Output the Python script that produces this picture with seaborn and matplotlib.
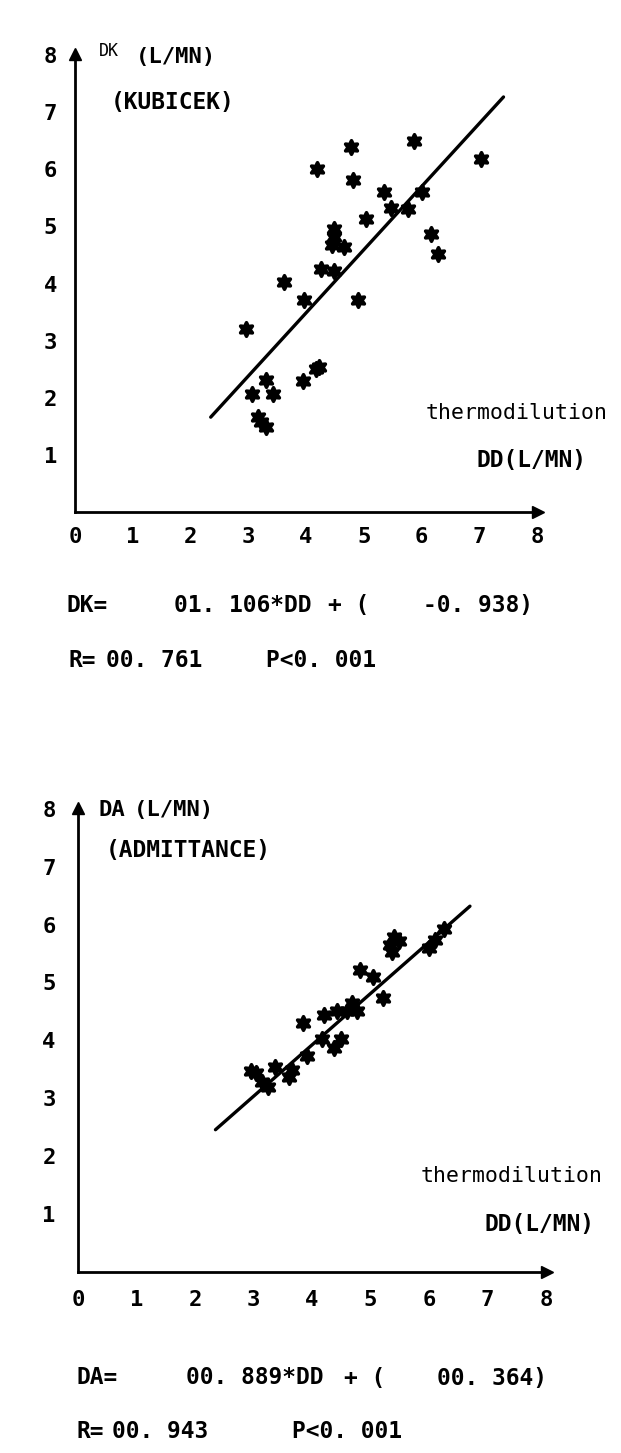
import numpy as np
import pandas as pd
import seaborn as sns
import matplotlib
matplotlib.use("Agg")
import matplotlib.pyplot as plt

# ---------------- data ----------------
dd_kubicek = [4.78, 5.87, 7.03, 4.19, 4.81, 5.35, 6.01, 5.47, 5.77, 5.04,
              4.49, 4.49, 4.45, 4.66, 6.16, 6.29, 4.26, 4.48, 3.62, 3.96,
              4.90, 2.96, 4.23, 4.17, 3.94, 3.30, 3.06, 3.42, 3.17, 3.30, 3.22]
dk_kubicek = [6.40, 6.49, 6.19, 6.01, 5.82, 5.61, 5.60, 5.33, 5.30, 5.13,
              4.96, 4.81, 4.67, 4.64, 4.86, 4.52, 4.25, 4.22, 4.02, 3.71,
              3.72, 3.20, 2.54, 2.50, 2.30, 2.32, 2.07, 2.07, 1.66, 1.49, 1.57]

dd_admit = [5.40, 5.33, 5.37, 5.49, 6.26, 6.11, 6.00, 4.82, 5.05, 5.22,
            4.69, 4.77, 4.59, 4.43, 4.20, 3.85, 4.17, 4.49, 4.37, 3.92,
            3.66, 3.60, 3.37, 2.95, 3.05, 3.24, 3.15]
da_admit = [5.79, 5.65, 5.53, 5.71, 5.92, 5.74, 5.59, 5.22, 5.10, 4.73,
            4.64, 4.50, 4.50, 4.50, 4.44, 4.30, 4.03, 4.03, 3.86, 3.73,
            3.49, 3.37, 3.54, 3.47, 3.43, 3.20, 3.27]

slope_k, icpt_k = 1.106, -0.938
slope_a, icpt_a = 0.889, 0.364
line_range_k = [2.35, 7.42]
line_range_a = [2.35, 6.70]

tick_values = [0, 1, 2, 3, 4, 5, 6, 7, 8]
tick_labels = ["0", "1", "2", "3", "4", "5", "6", "7", "8"]

# ---------------- style ----------------
sns.set_theme(style="white")
plt.rcParams["font.family"] = ["DejaVu Sans Mono", "DejaVu Sans"]

W, H = 621, 1453
fig = plt.figure(figsize=(W / 100, H / 100), dpi=100)
fig.patch.set_facecolor("white")

def fx(px):
    return px / W

def fy(py):
    return 1 - py / H

star = (6, 1, 0)

def make_panel(rect, xs, ys, slope, icpt, lrange, xpad, ypad):
    ax = fig.add_axes(rect)
    ax.set_facecolor("white")
    df = pd.DataFrame({"x": xs, "y": ys})
    sns.scatterplot(data=df, x="x", y="y", ax=ax, marker=star, s=95,
                    color="black", edgecolor="black", linewidth=2.6,
                    legend=False, zorder=3)
    lx = np.array(lrange)
    ldf = pd.DataFrame({"x": lx, "y": slope * lx + icpt})
    sns.lineplot(data=ldf, x="x", y="y", ax=ax, color="black", lw=2.4,
                 legend=False, zorder=2)
    ax.set_xlim(0, 8.05)
    ax.set_ylim(0, 8.05)
    ax.set_xticks(tick_values)
    ax.set_xticklabels(tick_labels)
    ax.set_yticks(tick_values[1:])
    ax.set_yticklabels(tick_labels[1:])
    for s in ["top", "right"]:
        ax.spines[s].set_visible(False)
    for s in ["left", "bottom"]:
        ax.spines[s].set_linewidth(2.0)
        ax.spines[s].set_color("black")
    ax.tick_params(axis="x", direction="in", length=6, width=1.6,
                   pad=xpad, labelsize=16, colors="black")
    ax.tick_params(axis="y", direction="in", length=6, width=1.6,
                   pad=ypad, labelsize=16, colors="black")
    for lab in ax.get_xticklabels() + ax.get_yticklabels():
        lab.set_fontweight("bold")
    ax.set_xlabel("")
    ax.set_ylabel("")
    ax.grid(False)
    # arrow heads
    ax.plot([8.02], [0], marker=">", ms=8, color="black", clip_on=False, zorder=4)
    ax.plot([0], [8.02], marker="^", ms=8, color="black", clip_on=False, zorder=4)
    return ax

# top panel: origin px (75, 512)
ax1 = make_panel([fx(75), fy(512), 57.75 * 8.05 / W, 57.1 * 8.05 / H],
                 dd_kubicek, dk_kubicek, slope_k, icpt_k, line_range_k,
                 xpad=11, ypad=13)
# bottom panel: origin px (78, 1271.5)
ax2 = make_panel([fx(78), fy(1271.5), 58.5 * 8.05 / W, 57.8 * 8.05 / H],
                 dd_admit, da_admit, slope_a, icpt_a, line_range_a,
                 xpad=13, ypad=16)

bold = dict(fontweight="bold", color="black", va="center", ha="left")
light = dict(color="black", va="center", ha="left")
EQ = 16.5

# ---- top panel texts ----
fig.text(fx(99), fy(51), "DK", fontsize=12, **light)
fig.text(fx(136), fy(57), "(L/MN)", fontsize=16, **bold)
fig.text(fx(111), fy(103), "(KUBICEK)", fontsize=16.5, **bold)
fig.text(fx(426), fy(413), "thermodilution", fontsize=15.5, **light)
fig.text(fx(476), fy(460), "DD(L/MN)", fontsize=16.5, **bold)
fig.text(fx(67), fy(605), "DK=", fontsize=EQ, **bold)
fig.text(fx(174), fy(605), "01. 106*DD", fontsize=EQ, **bold)
fig.text(fx(328), fy(605), "+ (", fontsize=EQ, **bold)
fig.text(fx(423), fy(605), "-0. 938)", fontsize=EQ, **bold)
fig.text(fx(69), fy(661), "R=", fontsize=EQ, **bold)
fig.text(fx(106), fy(661), "00. 761", fontsize=EQ, **bold)
fig.text(fx(266), fy(661), "P<0. 001", fontsize=EQ, **bold)

# ---- bottom panel texts ----
fig.text(fx(99), fy(810), "DA", fontsize=16, **bold)
fig.text(fx(134), fy(810), "(L/MN)", fontsize=16, **bold)
fig.text(fx(106), fy(850), "(ADMITTANCE)", fontsize=16.5, **bold)
fig.text(fx(421), fy(1176), "thermodilution", fontsize=15.5, **light)
fig.text(fx(484), fy(1224), "DD(L/MN)", fontsize=16.5, **bold)
fig.text(fx(76), fy(1378), "DA=", fontsize=EQ, **bold)
fig.text(fx(186), fy(1378), "00. 889*DD", fontsize=EQ, **bold)
fig.text(fx(344), fy(1378), "+ (", fontsize=EQ, **bold)
fig.text(fx(437), fy(1378), "00. 364)", fontsize=EQ, **bold)
fig.text(fx(76), fy(1432), "R=", fontsize=EQ, **bold)
fig.text(fx(112), fy(1432), "00. 943", fontsize=EQ, **bold)
fig.text(fx(292), fy(1432), "P<0. 001", fontsize=EQ, **bold)

fig.savefig("out.png", dpi=100, facecolor="white")
